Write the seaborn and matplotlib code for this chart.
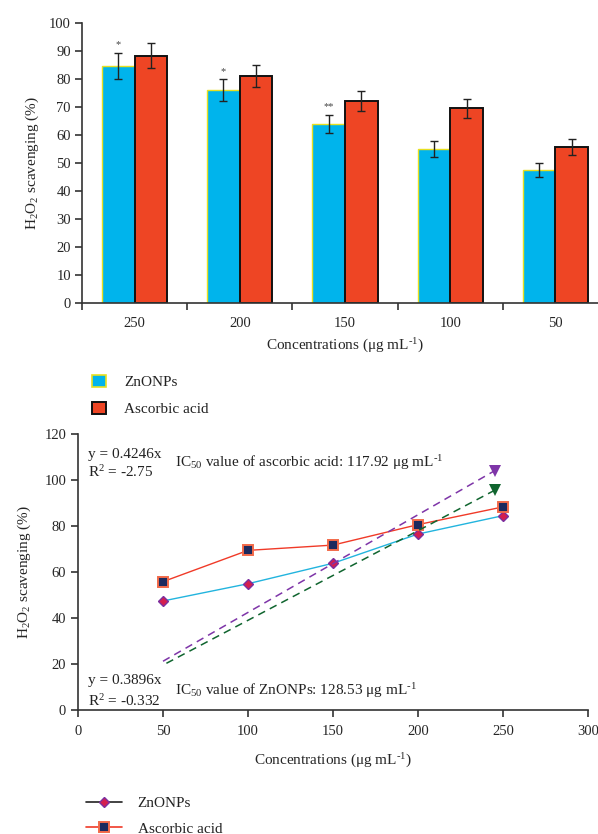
import matplotlib
matplotlib.use("Agg")
import matplotlib.pyplot as plt
from matplotlib.lines import Line2D
from matplotlib.patches import Patch
import pandas as pd
import seaborn as sns

# bar chart (top)
CONC = ["250", "200", "150", "100", "50"]
ZNO = [84.7, 76.0, 64.0, 55.0, 47.5]
ZNO_ERR = [4.6, 4.0, 3.3, 2.9, 2.4]
ASC = [88.3, 81.0, 72.2, 69.5, 55.8]
ASC_ERR = [4.5, 4.0, 3.6, 3.4, 2.9]
STARS = ["*", "*", "**", "", ""]

# line chart (bottom)
LINE_X = [50, 100, 150, 200, 250]
ZNO_LINE = [47.4, 54.9, 63.8, 76.5, 84.5]
ASC_LINE = [55.8, 69.4, 71.7, 80.6, 88.3]
TREND_ASC_X = [50, 245]
TREND_ASC_Y = [21.2, 104.0]
TREND_ZNO_X = [52, 245]
TREND_ZNO_Y = [20.3, 95.5]

BLUE = "#00B4EC"
RED = "#EE4524"
AX_COL = "#333333"
FS = 10.5   # ticks
LFS = 11    # labels, legend, notes
UNIT = "Concentrations (μg mL$^{\\text{-1}}$)"

sns.set_style("ticks")
plt.rcParams["font.family"] = ["Liberation Serif", "DejaVu Serif"]
plt.rcParams["mathtext.fontset"] = "custom"
plt.rcParams["mathtext.rm"] = "Liberation Serif"
plt.rcParams["mathtext.it"] = "Liberation Serif:italic"
plt.rcParams["text.color"] = "#222222"

fig = plt.figure(figsize=(5.98, 8.34), dpi=100)

# ---------- top: bars ----------
ax1 = fig.add_axes([82 / 598, 1 - 303 / 834, 526 / 598, 280 / 834])
df = pd.DataFrame({
    "conc": CONC * 2,
    "value": ZNO + ASC,
    "sample": ["ZnONPs"] * len(CONC) + ["Ascorbic acid"] * len(CONC),
})
sns.barplot(
    data=df, x="conc", y="value", hue="sample", order=CONC,
    hue_order=["ZnONPs", "Ascorbic acid"], palette=[BLUE, RED],
    saturation=1, width=0.62, errorbar=None, legend=False, ax=ax1,
)
for p in ax1.containers[0]:
    p.set_edgecolor("#E8E020")
    p.set_linewidth(1.0)
for p in ax1.containers[1]:
    p.set_edgecolor("#111111")
    p.set_linewidth(1.4)
for cont, vals, errs in [(ax1.containers[0], ZNO, ZNO_ERR),
                         (ax1.containers[1], ASC, ASC_ERR)]:
    xs = [p.get_x() + p.get_width() / 2 for p in cont]
    ax1.errorbar(xs, vals, yerr=errs, fmt="none", ecolor="#222222",
                 elinewidth=1.0, capsize=3, capthick=1.0, zorder=5)
for p, v, e, s in zip(ax1.containers[0], ZNO, ZNO_ERR, STARS):
    if s:
        ax1.text(p.get_x() + p.get_width() / 2, v + e + 1.2, s,
                 ha="center", va="bottom", fontsize=7.5, color="#444444")

ax1.set_xlim(-0.5, len(CONC) - 0.5)
ax1.set_ylim(0, 100)
ax1.set_yticks(range(0, 101, 10))
ax1.set_xticks([i - 0.5 for i in range(len(CONC))])
ax1.set_xticklabels([])
ax1.set_xticks(range(len(CONC)), minor=True)
ax1.set_xticklabels(CONC, minor=True)
ax1.tick_params(axis="x", which="minor", length=0, pad=10, labelsize=FS)
ax1.tick_params(axis="x", which="major", length=5, width=1.2, color=AX_COL)
ax1.tick_params(axis="y", length=5, width=1.2, color=AX_COL, labelsize=FS,
                pad=3)
ax1.set_xlabel(UNIT, fontsize=LFS, labelpad=5)
ax1.set_ylabel("H$_2$O$_2$ scavenging (%)", fontsize=LFS, labelpad=6)
sns.despine(ax=ax1)
for sp in ["left", "bottom"]:
    ax1.spines[sp].set_color(AX_COL)
    ax1.spines[sp].set_linewidth(1.2)

fig.legend(
    handles=[Patch(facecolor=BLUE, edgecolor="#E8E020", linewidth=1.2),
             Patch(facecolor=RED, edgecolor="#111111", linewidth=1.4)],
    labels=["ZnONPs", "Ascorbic acid"],
    loc="upper left", bbox_to_anchor=(78 / 598, 1 - 361 / 834),
    frameon=False, fontsize=LFS, handlelength=0.9, handleheight=0.9,
    handletextpad=1.2, labelspacing=0.8,
)

# ---------- bottom: lines ----------
ax2 = fig.add_axes([78 / 598, 1 - 710 / 834, 510 / 598, 276 / 834])
sns.lineplot(x=LINE_X, y=ZNO_LINE, color="#22B4DE", linewidth=1.0,
             marker="D", markersize=5, markerfacecolor="#D41E4E",
             markeredgecolor="#7B2FA0", markeredgewidth=1.0, ax=ax2)
sns.lineplot(x=LINE_X, y=ASC_LINE, color="#F03A28", linewidth=1.0,
             marker="s", markersize=6.5, markerfacecolor="#1C2A5E",
             markeredgecolor="#F26A4A", markeredgewidth=1.4, ax=ax2)
sns.lineplot(x=TREND_ASC_X, y=TREND_ASC_Y, color="#7E35A8", linewidth=1.1,
             linestyle=(0, (5, 3.5)), marker="v", markevery=[1],
             markersize=9, markeredgewidth=0, ax=ax2)
sns.lineplot(x=TREND_ZNO_X, y=TREND_ZNO_Y, color="#10652F", linewidth=1.1,
             linestyle=(0, (5, 3.5)), marker="v", markevery=[1],
             markersize=9, markeredgewidth=0, ax=ax2)

ax2.text(5.9, 111.3, "y = 0.4246x", fontsize=LFS, va="center")
ax2.text(5.9, 103.5, "R$^2$ = -2.75", fontsize=LFS, va="center")
ax2.text(57, 107.4,
         "IC$_{50}$ value of ascorbic acid: 117.92 μg mL$^{\\text{-1}}$",
         fontsize=LFS, va="center")
ax2.text(5.9, 13.0, "y = 0.3896x", fontsize=LFS, va="center")
ax2.text(5.9, 3.9, "R$^2$ = -0.332", fontsize=LFS, va="center")
ax2.text(57, 8.3, "IC$_{50}$ value of ZnONPs: 128.53 μg mL$^{\\text{-1}}$",
         fontsize=LFS, va="center")

ax2.set_xlim(0, 300)
ax2.set_ylim(0, 120)
ax2.set_xticks(range(0, 301, 50))
ax2.set_yticks(range(0, 121, 20))
ax2.tick_params(length=5, width=1.2, color=AX_COL, labelsize=FS)
ax2.tick_params(axis="x", pad=6)
ax2.set_xlabel(UNIT, fontsize=LFS, labelpad=10)
ax2.set_ylabel("H$_2$O$_2$ scavenging (%)", fontsize=LFS, labelpad=8)
sns.despine(ax=ax2)
for sp in ["left", "bottom"]:
    ax2.spines[sp].set_color(AX_COL)
    ax2.spines[sp].set_linewidth(1.2)

fig.legend(
    handles=[Line2D([], [], color="#222222", lw=1.2, marker="D", ms=5,
                    mfc="#D41E4E", mec="#7B2FA0"),
             Line2D([], [], color="#F03A28", lw=1.2, marker="s", ms=6.5,
                    mfc="#1C2A5E", mec="#F26A4A", mew=1.4)],
    labels=["ZnONPs", "Ascorbic acid"],
    loc="upper left", bbox_to_anchor=(72 / 598, 1 - 783 / 834),
    frameon=False, fontsize=LFS, handlelength=2.4,
    handletextpad=1.0, labelspacing=0.75,
)

fig.savefig("out.png", dpi=100)
plt.close(fig)
